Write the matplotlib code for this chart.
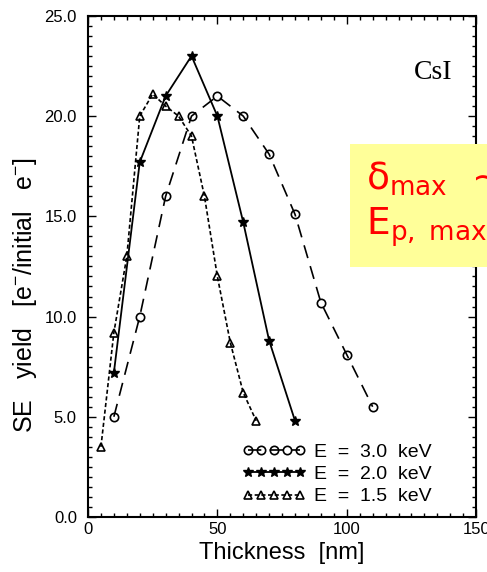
"""
SE yield of CsI films versus film thickness for three primary energies.
"""
import numpy as np
import matplotlib
matplotlib.use('Agg')
import matplotlib.pyplot as plt
from matplotlib.ticker import MultipleLocator
from matplotlib.patches import Rectangle

# Thickness [nm] and yield [e-/initial e-] for each beam energy
thick_30 = [10, 20, 30, 40, 50, 60, 70, 80, 90, 100, 110]
yield_30 = [5.0, 10.0, 16.0, 20.0, 21.0, 20.0, 18.1, 15.1, 10.7, 8.1, 5.5]

thick_20 = [10, 20, 30, 40, 50, 60, 70, 80]
yield_20 = [7.2, 17.7, 21.0, 23.0, 20.0, 14.7, 8.8, 4.8]

thick_15 = [5, 10, 15, 20, 25, 30, 35, 40, 45, 50, 55, 60, 65]
yield_15 = [3.5, 9.2, 13.0, 20.0, 21.1, 20.5, 20.0, 19.0, 16.0, 12.0, 8.7, 6.2, 4.8]

labels = ['E  =  3.0  keV', 'E  =  2.0  keV', 'E  =  1.5  keV']

plt.rcParams['font.family'] = 'sans-serif'
plt.rcParams['font.sans-serif'] = ['Liberation Sans']
plt.rcParams['mathtext.default'] = 'regular'

fig = plt.figure(figsize=(4.87, 5.72), dpi=100, facecolor='white')
ax = fig.add_axes([0.1807, 0.0962, 0.797, 0.876])

ax.plot(thick_30, yield_30, color='black', lw=1.2, dashes=(8, 5),
        marker='o', ms=6, mfc='none', mec='black', mew=1.2, label=labels[0])
ax.plot(thick_20, yield_20, color='black', lw=1.3, ls='-',
        marker='*', ms=7.5, mfc='black', mec='black', label=labels[1])
ax.plot(thick_15, yield_15, color='black', lw=1.2, dashes=(2.5, 1.5),
        marker='^', ms=6, mfc='none', mec='black', mew=1.2, label=labels[2])

ax.set_xlim(0, 150)
ax.set_ylim(0, 25)
ax.set_xticks([0, 50, 100, 150])
ax.set_yticks(np.arange(0, 26, 5))
ax.set_yticklabels(['%.1f' % v for v in np.arange(0, 26, 5)])
ax.xaxis.set_minor_locator(MultipleLocator(5))
ax.yaxis.set_minor_locator(MultipleLocator(0.5))
ax.tick_params(which='both', direction='in', top=True, right=True,
               width=1, labelsize=12)
ax.tick_params(axis='y', which='major', pad=8)
ax.tick_params(which='major', length=6)
ax.tick_params(which='minor', length=3)
for s in ax.spines.values():
    s.set_linewidth(1.5)

ax.set_xlabel('Thickness  [nm]', fontsize=17, labelpad=4)
ax.set_ylabel('SE   yield   [e$^{-}$/initial   e$^{-}$]', fontsize=18)
ax.yaxis.set_label_coords(-0.125, 0.443)

ax.text(0.94, 0.888, 'CsI', transform=ax.transAxes, ha='right', va='center',
        family='Liberation Serif', fontsize=20)

ax.legend(loc='lower right', bbox_to_anchor=(0.93, -0.012), frameon=False,
          numpoints=5, handlelength=3.3, handletextpad=0.4, fontsize=14,
          labelspacing=0.25)

# highlighted note box on the right edge
fig.patches.append(Rectangle((0.7187, 0.5332), 0.2813, 0.215,
                             transform=fig.transFigure, facecolor='#FFFF99',
                             edgecolor='none', zorder=5))
fig.text(0.752, 0.67, r'$\delta_{max}$  ~', color='red', fontsize=27,
         family='DejaVu Sans', ha='left', va='baseline', zorder=6)
fig.text(0.752, 0.59, r'$E_{p,\ max}$', color='red', fontsize=27,
         family='DejaVu Sans', ha='left', va='baseline', zorder=6)

plt.savefig('out.png', dpi=100)
